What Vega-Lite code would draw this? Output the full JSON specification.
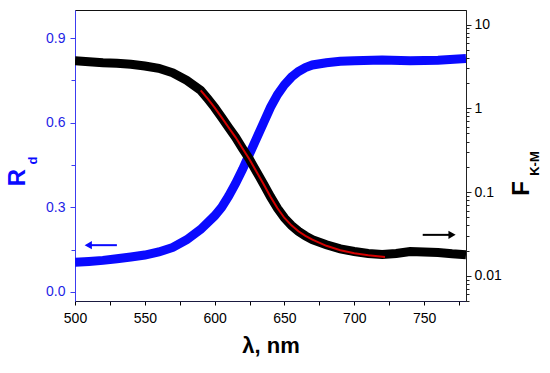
{
  "$schema": "https://vega.github.io/schema/vega-lite/v6.json",
  "width": 391,
  "height": 291,
  "autosize": "none",
  "padding": {"left": 75, "top": 10, "right": 84, "bottom": 72},
  "background": "white",
  "config": {
    "view": {"stroke": "#111", "strokeWidth": 1},
    "axis": {"labelFont": "Liberation Sans", "titleFont": "Liberation Sans", "labelFontSize": 14, "grid": false, "labelFlush": false}
  },
  "datasets": {
    "rd": [
      {"nm": 500, "v": 0.105}, {"nm": 510, "v": 0.108}, {"nm": 520, "v": 0.112}, {"nm": 530, "v": 0.118},
      {"nm": 540, "v": 0.124}, {"nm": 550, "v": 0.131}, {"nm": 560, "v": 0.142}, {"nm": 570, "v": 0.158},
      {"nm": 580, "v": 0.185}, {"nm": 590, "v": 0.222}, {"nm": 600, "v": 0.27}, {"nm": 605, "v": 0.30},
      {"nm": 610, "v": 0.34}, {"nm": 615, "v": 0.385}, {"nm": 620, "v": 0.435}, {"nm": 625, "v": 0.49},
      {"nm": 630, "v": 0.545}, {"nm": 635, "v": 0.60}, {"nm": 640, "v": 0.655}, {"nm": 645, "v": 0.70},
      {"nm": 650, "v": 0.735}, {"nm": 655, "v": 0.762}, {"nm": 660, "v": 0.782}, {"nm": 665, "v": 0.796},
      {"nm": 670, "v": 0.805}, {"nm": 680, "v": 0.813}, {"nm": 690, "v": 0.818}, {"nm": 700, "v": 0.82},
      {"nm": 720, "v": 0.823}, {"nm": 740, "v": 0.82}, {"nm": 760, "v": 0.822}, {"nm": 780, "v": 0.828}
    ],
    "fkm": [
      {"nm": 500, "v": 3.7}, {"nm": 510, "v": 3.6}, {"nm": 520, "v": 3.5}, {"nm": 530, "v": 3.45},
      {"nm": 540, "v": 3.35}, {"nm": 550, "v": 3.2}, {"nm": 560, "v": 3.0}, {"nm": 570, "v": 2.65},
      {"nm": 580, "v": 2.15}, {"nm": 590, "v": 1.64}, {"nm": 595, "v": 1.3}, {"nm": 600, "v": 1.02},
      {"nm": 605, "v": 0.78}, {"nm": 610, "v": 0.59}, {"nm": 615, "v": 0.45}, {"nm": 620, "v": 0.33},
      {"nm": 625, "v": 0.245}, {"nm": 630, "v": 0.175}, {"nm": 635, "v": 0.125}, {"nm": 640, "v": 0.088},
      {"nm": 645, "v": 0.064}, {"nm": 650, "v": 0.049}, {"nm": 655, "v": 0.040}, {"nm": 660, "v": 0.034},
      {"nm": 665, "v": 0.030}, {"nm": 670, "v": 0.027}, {"nm": 680, "v": 0.0235}, {"nm": 690, "v": 0.021},
      {"nm": 700, "v": 0.0195}, {"nm": 710, "v": 0.0185}, {"nm": 720, "v": 0.018}, {"nm": 730, "v": 0.0185},
      {"nm": 740, "v": 0.0195}, {"nm": 750, "v": 0.0192}, {"nm": 760, "v": 0.019}, {"nm": 770, "v": 0.0183},
      {"nm": 780, "v": 0.0178}
    ],
    "fit": [
      {"nm": 590, "v": 1.64}, {"nm": 595, "v": 1.3}, {"nm": 600, "v": 1.02}, {"nm": 605, "v": 0.78},
      {"nm": 610, "v": 0.59}, {"nm": 615, "v": 0.45}, {"nm": 620, "v": 0.33}, {"nm": 625, "v": 0.245},
      {"nm": 630, "v": 0.175}, {"nm": 635, "v": 0.125}, {"nm": 640, "v": 0.088}, {"nm": 645, "v": 0.064},
      {"nm": 650, "v": 0.049}, {"nm": 655, "v": 0.040}, {"nm": 660, "v": 0.034}, {"nm": 665, "v": 0.030},
      {"nm": 670, "v": 0.027}, {"nm": 680, "v": 0.0228}, {"nm": 690, "v": 0.0202}, {"nm": 700, "v": 0.0186},
      {"nm": 710, "v": 0.0176}, {"nm": 722, "v": 0.0168}
    ],
    "arrowL": [{"nm": 509, "nm2": 530, "v": 0.166, "head": 509.5}],
    "arrowR": [{"nm": 749, "nm2": 769, "v": 0.0308, "head": 770}]
  },
  "encoding": {
    "x": {
      "field": "nm", "type": "quantitative",
      "scale": {"domain": [500, 780], "nice": false, "zero": false},
      "axis": {
        "orient": "bottom",
        "values": [500, 525, 550, 575, 600, 625, 650, 675, 700, 725, 750, 775],
        "labelExpr": "datum.value % 50 == 0 ? datum.label : ''",
        "tickSize": 4, "tickWidth": 1,
        "tickColor": "black", "domainColor": "#1a1a40", "labelColor": "black", "labelPadding": 6,
        "title": "λ, nm", "titleFontSize": 22, "titleFontWeight": "bold", "titleColor": "black", "titlePadding": 10
      }
    }
  },
  "layer": [
    {
      "data": {"name": "rd"},
      "mark": {"type": "line", "color": "#0a0aff", "strokeWidth": 9, "strokeCap": "butt", "clip": true},
      "encoding": {
        "y": {
          "field": "v", "type": "quantitative",
          "scale": {"domain": [-0.032, 1.0], "nice": false, "zero": false},
          "axis": {
            "orient": "left",
            "values": [0, 0.15, 0.3, 0.45, 0.6, 0.75, 0.9],
            "format": ".1f",
            "labelExpr": "indexof([0, 0.3, 0.6, 0.9], datum.value) >= 0 ? datum.label : ''",
            "tickSize": {"condition": {"test": "indexof([0, 0.3, 0.6, 0.9], datum.value) >= 0", "value": 5}, "value": 4},
            "tickColor": "#3c3cf0", "domainColor": "#3c3cf0", "labelColor": "#1f1fe6", "labelPadding": 5,
            "title": "R", "titleFontSize": 24, "titleFontWeight": "bold", "titleColor": "#0a0aff",
            "titleAngle": -90, "titleX": -51, "titleY": 167, "titleBaseline": "alphabetic", "titleAlign": "center"
          }
        }
      }
    },
    {
      "data": {"name": "rd"},
      "mark": {"type": "point", "opacity": 0},
      "encoding": {
        "y": {
          "field": "v", "type": "quantitative",
          "scale": {"domain": [-0.032, 1.0], "nice": false, "zero": false},
          "axis": {
            "orient": "left", "labels": false, "ticks": false, "domain": false,
            "title": "d", "titleFontSize": 13, "titleFontWeight": "bold", "titleColor": "#0a0aff",
            "titleAngle": -90, "titleX": -39, "titleY": 150, "titleBaseline": "alphabetic", "titleAlign": "center"
          }
        }
      }
    },
    {
      "data": {"name": "arrowL"},
      "mark": {"type": "rule", "color": "#0a0aff", "strokeWidth": 2},
      "encoding": {
        "x2": {"field": "nm2"},
        "y": {"field": "v", "type": "quantitative", "scale": {"domain": [-0.032, 1.0], "nice": false, "zero": false}, "axis": null}
      }
    },
    {
      "data": {"name": "arrowL"},
      "mark": {"type": "point", "shape": "triangle-left", "filled": true, "color": "#0a0aff", "size": 70, "opacity": 1},
      "encoding": {
        "x": {"field": "head", "type": "quantitative"},
        "y": {"field": "v", "type": "quantitative", "scale": {"domain": [-0.032, 1.0], "nice": false, "zero": false}, "axis": null}
      }
    },
    {
      "data": {"name": "fkm"},
      "mark": {"type": "line", "color": "black", "strokeWidth": 9, "strokeCap": "butt", "clip": true},
      "encoding": {
        "y": {
          "field": "v", "type": "quantitative",
          "scale": {"type": "log", "domain": [0.005, 14.9], "nice": false},
          "axis": {
            "orient": "right",
            "values": [0.005, 0.006, 0.007, 0.008, 0.009, 0.01, 0.02, 0.03, 0.04, 0.05, 0.06, 0.07, 0.08, 0.09, 0.1, 0.2, 0.3, 0.4, 0.5, 0.6, 0.7, 0.8, 0.9, 1, 2, 3, 4, 5, 6, 7, 8, 9, 10],
            "format": "~g",
            "labelExpr": "indexof([0.01, 0.1, 1, 10], datum.value) >= 0 ? datum.label : ''",
            "tickSize": {"condition": {"test": "indexof([0.01, 0.1, 1, 10], datum.value) >= 0", "value": 5}, "value": 3},
            "tickColor": "#222", "domainColor": "#222", "labelColor": "black", "labelPadding": 3,
            "title": "F", "titleFontSize": 24, "titleFontWeight": "bold", "titleColor": "black",
            "titleAngle": -90, "titleX": 62, "titleY": 178, "titleBaseline": "alphabetic", "titleAlign": "center"
          }
        }
      }
    },
    {
      "data": {"name": "fit"},
      "mark": {"type": "line", "color": "#d40000", "strokeWidth": 2},
      "encoding": {
        "y": {"field": "v", "type": "quantitative", "scale": {"type": "log", "domain": [0.005, 14.9], "nice": false}, "axis": null}
      }
    },
    {
      "data": {"name": "fkm"},
      "mark": {"type": "point", "opacity": 0},
      "encoding": {
        "y": {
          "field": "v", "type": "quantitative",
          "scale": {"type": "log", "domain": [0.005, 14.9], "nice": false},
          "axis": {
            "orient": "right", "labels": false, "ticks": false, "domain": false,
            "title": "K-M", "titleFontSize": 13, "titleFontWeight": "bold", "titleColor": "black",
            "titleAngle": -90, "titleX": 72, "titleY": 153, "titleBaseline": "alphabetic", "titleAlign": "center"
          }
        }
      }
    },
    {
      "data": {"name": "arrowR"},
      "mark": {"type": "rule", "color": "black", "strokeWidth": 2},
      "encoding": {
        "x2": {"field": "nm2"},
        "y": {"field": "v", "type": "quantitative", "scale": {"type": "log", "domain": [0.005, 14.9], "nice": false}, "axis": null}
      }
    },
    {
      "data": {"name": "arrowR"},
      "mark": {"type": "point", "shape": "triangle-right", "filled": true, "color": "black", "size": 70, "opacity": 1},
      "encoding": {
        "x": {"field": "head", "type": "quantitative"},
        "y": {"field": "v", "type": "quantitative", "scale": {"type": "log", "domain": [0.005, 14.9], "nice": false}, "axis": null}
      }
    }
  ],
  "resolve": {"scale": {"y": "independent"}, "axis": {"y": "independent"}}
}
